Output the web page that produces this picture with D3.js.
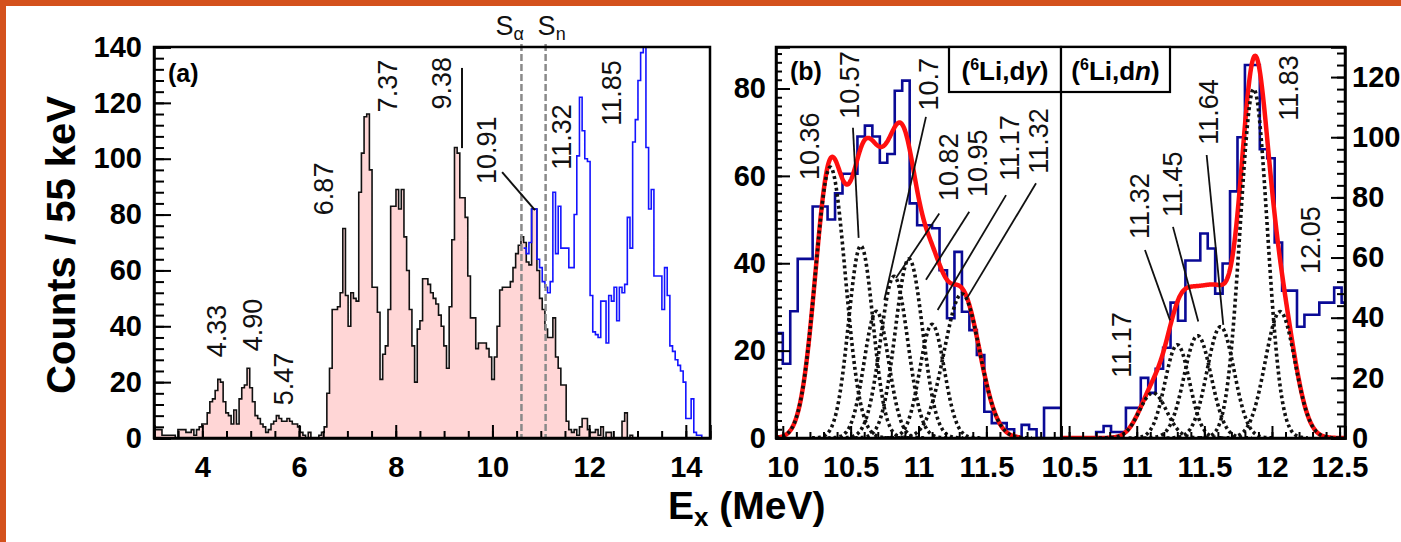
<!DOCTYPE html>
<html>
<head>
<meta charset="utf-8">
<script src="https://cdn.jsdelivr.net/npm/d3@7"></script>
<style>
  body { margin: 0; background: #fff; }
  text { font-family: "Liberation Sans", Arial, sans-serif; }
</style>
</head>
<body>
<svg id="chart" width="1401" height="542"></svg>
<script>
// ---------------- data ----------------
const binWidth = 0.055; // MeV, 55 keV bins

// (a) singles spectrum, black outline / pink fill, bins from 3.0 MeV
const singlesStart = 3.0;
const singlesCounts = [
  3,3,3,1,1,1,1,1,0,3, 3,3,2,2,3,1,3,4,5,5,
  9,13,14,17,21,20,13,9,8,5, 10,5,14,18,19,25,18,13,8,7,
  5,4,2,3,5,6,8,7,6,6, 7,6,5,5,4,2,1,0,2,0,
  0,0,1,2,4,16,25,46,46,47, 52,75,51,40,52,50,49,88,102,115,
  116,96,54,54,45,21,30,33,46,83, 83,89,82,89,72,60,46,33,20,39,
  42,57,57,55,52,50,48,44,40,33, 25,47,71,104,102,86,86,79,58,43,
  43,32,34,34,34,32,29,21,29,40, 53,54,54,54,56,61,66,69,72,70,
  63,62,82,82,60,50,46,39,36,36, 43,29,25,19,19,6,3,2,3,1,
  4,7,7,3,2,2,3,1,4,0, 2,2,0,0,0,0,6,9,0,1, 0
];

// (a) coincidence spectrum (blue), bins from 10.645 MeV
const coincStart = 10.645;
const coincCounts = [
  68,66,70,82,82,64,61,56,54,52, 56,88,66,83,68,68,68,61,61,80,
  101,122,110,100,99,51,38,37,36,49, 49,34,51,49,54,42,54,52,55,79,
  68,106,114,128,138,140,104,82,89,58, 58,58,46,61,51,33,31,28,26,24,
  20,7,7,14,2,1,1,0
];

// separation energies (MeV)
const thresholdNames = ["α", "n"];
const thresholdEnergies = [10.6, 11.1];

// (a) level labels: text, anchor energy, anchor counts
const levelTextsA = ["4.33", "4.90", "5.47", "6.87", "7.37", "9.38", "10.91", "11.32", "11.85"];
const levelEA = [4.28, 5.03, 5.67, 6.50, 7.82, 8.94, 9.87, 11.42, 12.45];
const levelCA = [38.3, 40.5, 21.1, 89.2, 126, 127, 103, 107.8, 123.5];
// leader lines [E1, c1, E2, c2]
const leadersA = [[9.37, 132.5, 9.37, 103.8], [10.20, 95.2, 10.88, 81.6]];

// (b) (6Li,d gamma) spectrum, bins from 9.945 MeV
const dgStart = 9.945;
const dgCounts = [
  24,17,29,41,41,53,53,50,56,60.5, 60.5,69,71.5,69,63,65,79.5,81.8,53.7,48.7,
  48.7,48,38.4,27.4,42.6,28.9,24.7,19,6,3.4, 3.4,2,0,3,2,0,6.9,6.9,6.9
];
const dgPeaks   = [10.35, 10.575, 10.69, 10.82, 10.93, 11.10, 11.32];
const dgHeights = [62, 44, 29, 37, 41, 26, 33];
const dgSigmas  = [0.11, 0.09, 0.09, 0.10, 0.10, 0.09, 0.13];
const dgTexts = ["10.36", "10.57", "10.7", "10.82", "10.95", "11.17", "11.32"];
const dgLabelE = [10.193, 10.488, 11.07, 11.217, 11.431, 11.667, 11.881];
const dgLabelC = [66.8, 80.8, 81.0, 62.0, 62.9, 66.4, 68.0];
const dgLeaders = [
  [10.517, 71.0, 10.559, 45.8],
  [11.055, 73.5, 10.748, 31.6],
  [11.153, 51.4, 10.834, 36.6],
  [11.374, 51.8, 11.055, 36.2],
  [11.645, 55.6, 11.141, 29.3],
  [11.866, 58.3, 11.363, 32.3]
];

// (b) (6Li,dn) spectrum, bins from 10.425 MeV
const dnStart = 10.425;
const dnCounts = [
  0,0,0,0,0,2,4,2,2,10, 10,20,15,23,30,45,39,59,59,68,
  63,48,58,82,100,124,124,96,93,65, 49,49,37,41,41,45,45,50,45
];
const dnPeaks   = [11.12, 11.30, 11.45, 11.62, 11.865, 12.06];
const dnHeights = [15, 31, 34, 37, 116, 42];
const dnSigmas  = [0.10, 0.09, 0.10, 0.10, 0.10, 0.11];
const dnTexts = ["11.17", "11.32", "11.45", "11.64", "11.83", "12.05"];
const dnLabelE = [10.884, 11.017, 11.261, 11.527, 12.118, 12.281];
const dnLabelC = [30.9, 77.1, 84.4, 108.4, 116.4, 65.8];
const dnLeaders = [
  [11.061, 62.5, 11.246, 39.2],
  [11.268, 70.2, 11.455, 38.7],
  [11.517, 94.1, 11.64, 37.6]
];

// ---------------- drawing ----------------
const svg = d3.select("#chart");
const W = 1401, H = 542;
const plotTop = 47, plotBottom = 438;
const font = '"Liberation Sans", Arial, sans-serif';

// orange slide border
svg.append("rect").attr("x", 0).attr("y", 0).attr("width", W).attr("height", 6).attr("fill", "#d4511d");
svg.append("rect").attr("x", 0).attr("y", 0).attr("width", 6).attr("height", H).attr("fill", "#d4511d");

// scales
const xA = d3.scaleLinear().domain([3, 14.5]).range([154, 710]);
const yA = d3.scaleLinear().domain([0, 140]).range([plotBottom, plotTop]);
const xBL = d3.scaleLinear().domain([9.95, 12.05]).range([776, 1061]);
const yBL = d3.scaleLinear().domain([0, 89.5]).range([plotBottom, plotTop]);
const xBR = d3.scaleLinear().domain([10.44, 12.54]).range([1061, 1345]);
const yBR = d3.scaleLinear().domain([0, 130]).range([plotBottom, plotTop]);

function stepPoints(start, counts) {
  const pts = counts.map((c, i) => [start + i * binWidth, c]);
  pts.push([start + counts.length * binWidth, counts[counts.length - 1]]);
  return pts;
}

function gaussSum(e, peaks, heights, sigmas) {
  let s = 0;
  peaks.forEach((p, i) => { s += heights[i] * Math.exp(-0.5 * Math.pow((e - p) / sigmas[i], 2)); });
  return s;
}

// clip paths
const defs = svg.append("defs");
defs.append("clipPath").attr("id", "clipA").append("rect")
  .attr("x", 154).attr("y", plotTop).attr("width", 556).attr("height", plotBottom - plotTop);
defs.append("clipPath").attr("id", "clipBL").append("rect")
  .attr("x", 776).attr("y", plotTop).attr("width", 285).attr("height", plotBottom - plotTop);
defs.append("clipPath").attr("id", "clipBR").append("rect")
  .attr("x", 1061).attr("y", plotTop).attr("width", 284).attr("height", plotBottom - plotTop);

// ===== panel (a) =====
const gA = svg.append("g");
const plotA = gA.append("g").attr("clip-path", "url(#clipA)");

const singlesPts = stepPoints(singlesStart, singlesCounts);
plotA.append("path")
  .datum(singlesPts)
  .attr("fill", "#ffd6d6")
  .attr("d", d3.area().curve(d3.curveStepAfter).x(d => xA(d[0])).y0(yA(0)).y1(d => yA(d[1])));
plotA.append("path")
  .datum(singlesPts)
  .attr("fill", "none").attr("stroke", "#111").attr("stroke-width", 1.6)
  .attr("d", d3.line().curve(d3.curveStepAfter).x(d => xA(d[0])).y(d => yA(d[1])));

plotA.append("path")
  .datum(stepPoints(coincStart, coincCounts))
  .attr("fill", "none").attr("stroke", "#1414ff").attr("stroke-width", 1.6)
  .attr("d", d3.line().curve(d3.curveStepAfter).x(d => xA(d[0])).y(d => yA(d[1])));

// axes (a)
gA.append("g").attr("transform", `translate(${xA(3)},0)`)
  .call(d3.axisLeft(yA).tickValues(d3.range(0, 141, 4)).tickSize(-10).tickFormat(""))
  .call(g => g.select(".domain").remove());
gA.append("g").attr("transform", `translate(${xA(3)},0)`)
  .call(d3.axisLeft(yA).tickValues(d3.range(0, 141, 20)).tickSize(-17).tickPadding(12).tickFormat(d3.format("d")));

gA.append("g").attr("transform", `translate(0,${plotBottom})`)
  .call(d3.axisBottom(xA).tickValues(d3.range(3, 14.51, 0.5)).tickSize(-7).tickFormat(""))
  .call(g => g.select(".domain").remove());
gA.append("g").attr("transform", `translate(0,${plotBottom})`)
  .call(d3.axisBottom(xA).tickValues(d3.range(4, 14.1, 2)).tickSize(-13).tickPadding(18).tickFormat(d3.format("d")));

// threshold lines
thresholdEnergies.forEach((e, i) => {
  gA.append("line")
    .attr("x1", xA(e)).attr("x2", xA(e)).attr("y1", 44).attr("y2", plotBottom)
    .attr("stroke", "#8a8a8a").attr("stroke-width", 2.5).attr("stroke-dasharray", "7,3");
  const t = gA.append("text").attr("x", xA(e) - (i === 0 ? 26 : 8)).attr("y", 35)
    .attr("font-size", 27).attr("fill", "#111").text("S");
  t.append("tspan").attr("font-size", 18).attr("dy", 5).text(thresholdNames[i]);
});

// level labels (a)
levelTextsA.forEach((s, i) => {
  gA.append("text")
    .attr("transform", `translate(${xA(levelEA[i])},${yA(levelCA[i])}) rotate(-90)`)
    .attr("text-anchor", "middle").attr("dy", "0.36em")
    .attr("font-size", 27).attr("fill", "#111").text(s);
});
leadersA.forEach(l => {
  gA.append("line").attr("x1", xA(l[0])).attr("y1", yA(l[1])).attr("x2", xA(l[2])).attr("y2", yA(l[3]))
    .attr("stroke", "#111").attr("stroke-width", 2);
});

gA.append("rect").attr("x", 154).attr("y", plotTop).attr("width", 556).attr("height", plotBottom - plotTop)
  .attr("fill", "none").attr("stroke", "#000").attr("stroke-width", 2.5);
gA.append("text").attr("x", 168).attr("y", 82).attr("font-size", 25).attr("font-weight", "bold").text("(a)");

// ===== panel (b) =====
const gB = svg.append("g");

function drawSub(clip, xS, yS, start, counts, peaks, heights, sigmas, eFrom, eTo) {
  const p = gB.append("g").attr("clip-path", `url(#${clip})`);
  p.append("path")
    .datum(stepPoints(start, counts))
    .attr("fill", "none").attr("stroke", "#0a0a96").attr("stroke-width", 2.6)
    .attr("d", d3.line().curve(d3.curveStepAfter).x(d => xS(d[0])).y(d => yS(d[1])));
  const grid = d3.range(eFrom, eTo + 0.0001, 0.004);
  p.append("path")
    .datum(grid.map(e => [e, gaussSum(e, peaks, heights, sigmas)]))
    .attr("fill", "none").attr("stroke", "#ff0f0f").attr("stroke-width", 4.5)
    .attr("d", d3.line().x(d => xS(d[0])).y(d => yS(d[1])));
  peaks.forEach((pk, i) => {
    const g1 = d3.range(pk - 4 * sigmas[i], pk + 4 * sigmas[i], 0.004);
    p.append("path")
      .datum(g1.map(e => [e, heights[i] * Math.exp(-0.5 * Math.pow((e - pk) / sigmas[i], 2))]))
      .attr("fill", "none").attr("stroke", "#111").attr("stroke-width", 3.6)
      .attr("stroke-dasharray", "3,3")
      .attr("d", d3.line().x(d => xS(d[0])).y(d => yS(d[1])));
  });
}

drawSub("clipBL", xBL, yBL, dgStart, dgCounts, dgPeaks, dgHeights, dgSigmas, 9.95, 11.75);
drawSub("clipBR", xBR, yBR, dnStart, dnCounts, dnPeaks, dnHeights, dnSigmas, 10.44, 12.54);

// axes (b)
gB.append("g").attr("transform", `translate(776,0)`)
  .call(d3.axisLeft(yBL).tickValues(d3.range(0, 89.5, 2)).tickSize(-6).tickFormat(""))
  .call(g => g.select(".domain").remove());
gB.append("g").attr("transform", `translate(776,0)`)
  .call(d3.axisLeft(yBL).tickValues(d3.range(0, 81, 20)).tickSize(-14).tickPadding(10).tickFormat(d3.format("d")));

gB.append("g").attr("transform", `translate(1345,0)`)
  .call(d3.axisRight(yBR).tickValues(d3.range(0, 130, 4)).tickSize(-8).tickFormat(""))
  .call(g => g.select(".domain").remove());
gB.append("g").attr("transform", `translate(1345,0)`)
  .call(d3.axisRight(yBR).tickValues(d3.range(0, 121, 20)).tickSize(-14).tickPadding(7).tickFormat(d3.format("d")));

gB.append("g").attr("transform", `translate(0,${plotBottom})`)
  .call(d3.axisBottom(xBL).tickValues(d3.range(10, 12.01, 0.1)).tickSize(-6).tickFormat(""))
  .call(g => g.select(".domain").remove());
gB.append("g").attr("transform", `translate(0,${plotBottom})`)
  .call(d3.axisBottom(xBL).tickValues([10, 10.5, 11, 11.5]).tickSize(-12).tickPadding(18).tickFormat(d3.format("")));
gB.append("g").attr("transform", `translate(0,${plotBottom})`)
  .call(d3.axisBottom(xBR).tickValues(d3.range(10.5, 12.51, 0.1)).tickSize(-6).tickFormat(""))
  .call(g => g.select(".domain").remove());
gB.append("g").attr("transform", `translate(0,${plotBottom})`)
  .call(d3.axisBottom(xBR).tickValues([10.5, 11, 11.5, 12, 12.5]).tickSize(-12).tickPadding(18).tickFormat(d3.format("")));

// labels (b)
function labelSet(xS, yS, texts, es, cs, leaders) {
  texts.forEach((s, i) => {
    gB.append("text")
      .attr("transform", `translate(${xS(es[i])},${yS(cs[i])}) rotate(-90)`)
      .attr("text-anchor", "middle").attr("dy", "0.36em")
      .attr("font-size", 27).attr("fill", "#111").text(s);
  });
  leaders.forEach(l => {
    gB.append("line").attr("x1", xS(l[0])).attr("y1", yS(l[1])).attr("x2", xS(l[2])).attr("y2", yS(l[3]))
      .attr("stroke", "#111").attr("stroke-width", 1.8);
  });
}
labelSet(xBL, yBL, dgTexts, dgLabelE, dgLabelC, dgLeaders);
labelSet(xBR, yBR, dnTexts, dnLabelE, dnLabelC, dnLeaders);

// frame, divider, reaction boxes
gB.append("rect").attr("x", 776).attr("y", plotTop).attr("width", 569).attr("height", plotBottom - plotTop)
  .attr("fill", "none").attr("stroke", "#000").attr("stroke-width", 2.5);
gB.append("line").attr("x1", 1061).attr("x2", 1061).attr("y1", plotTop).attr("y2", plotBottom)
  .attr("stroke", "#000").attr("stroke-width", 2.2);

const boxes = [{x: 949, w: 112, part: "γ"}, {x: 1061, w: 109, part: "n"}];
boxes.forEach(b => {
  gB.append("rect").attr("x", b.x).attr("y", plotTop).attr("width", b.w).attr("height", 45)
    .attr("fill", "#fff").attr("stroke", "#000").attr("stroke-width", 2.2);
  const t = gB.append("text").attr("x", b.x + b.w / 2).attr("y", 80).attr("text-anchor", "middle")
    .attr("font-size", 26).attr("font-weight", "bold");
  t.append("tspan").text("(");
  t.append("tspan").attr("font-size", 16).attr("dy", -10).text("6");
  t.append("tspan").attr("dy", 10).text("Li,d");
  t.append("tspan").attr("font-style", "italic").text(b.part);
  t.append("tspan").text(")");
});
gB.append("text").attr("x", 790).attr("y", 80).attr("font-size", 25).attr("font-weight", "bold").text("(b)");

// tick label styling
svg.selectAll(".tick text").attr("font-family", font).attr("font-size", 29).attr("font-weight", "bold").attr("fill", "#000");
svg.selectAll(".tick line").attr("stroke", "#000").attr("stroke-width", 2);
svg.selectAll(".domain").attr("stroke", "#000").attr("stroke-width", 2.5);

// axis titles
svg.append("text").attr("transform", "translate(75,245) rotate(-90)").attr("text-anchor", "middle")
  .attr("font-size", 40).attr("font-weight", "bold").text("Counts / 55 keV");
const xt = svg.append("text").attr("x", 668).attr("y", 519).attr("font-size", 39).attr("font-weight", "bold");
xt.append("tspan").text("E");
xt.append("tspan").attr("font-size", 26).attr("dy", 7).text("x");
xt.append("tspan").attr("dy", -7).text(" (MeV)");
</script>
</body>
</html>
